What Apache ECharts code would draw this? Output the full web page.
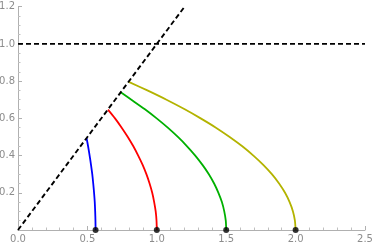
<!DOCTYPE html>
<html><head><meta charset="utf-8">
<script src="https://cdn.jsdelivr.net/npm/echarts@6/dist/echarts.min.js"></script>
<style>html,body{margin:0;padding:0;background:#fff}#c{width:374px;height:248px}</style>
</head><body><div id="c"></div>
<script>
// curve data: [x, y]
const blueCurve = [[0.559,0],[0.558,0.05],[0.556,0.1],[0.553,0.15],[0.548,0.2],[0.542,0.25],[0.535,0.3],[0.526,0.35],[0.516,0.4],[0.505,0.45],[0.494,0.494]];
const redCurve = [[1,0],[0.998,0.05],[0.992,0.1],[0.981,0.15],[0.967,0.2],[0.948,0.25],[0.925,0.3],[0.898,0.35],[0.866,0.4],[0.831,0.45],[0.791,0.5],[0.747,0.55],[0.699,0.6],[0.648,0.647]];
const greenCurve = [[1.5,0],[1.497,0.05],[1.486,0.1],[1.469,0.15],[1.444,0.2],[1.413,0.25],[1.375,0.3],[1.329,0.35],[1.277,0.4],[1.218,0.45],[1.152,0.5],[1.079,0.55],[0.999,0.6],[0.912,0.65],[0.817,0.7],[0.74,0.74]];
const yellowCurve = [[2,0],[1.995,0.05],[1.981,0.1],[1.957,0.15],[1.924,0.2],[1.881,0.25],[1.829,0.3],[1.767,0.35],[1.696,0.4],[1.616,0.45],[1.525,0.5],[1.426,0.55],[1.316,0.6],[1.198,0.65],[1.07,0.7],[0.932,0.75],[0.798,0.796]];
const startPoints = [[0.559,0],[1,0],[1.5,0],[2,0]];
const diagonalLine = [[0,0],[1.2,1.2]];
const horizontalLine = [[0,1],[2.5,1]];
const xTicks = [0, 0.5, 1.0, 1.5, 2.0, 2.5];
const yTicks = [0, 0.2, 0.4, 0.6, 0.8, 1.0, 1.2];

const chart = echarts.init(document.getElementById('c'), null, {renderer:'canvas'});
const axisCommon = {
  axisLine:{show:true,onZero:false,lineStyle:{color:'#b0b0b0',width:1}},
  axisTick:{show:true,inside:true,length:4,lineStyle:{color:'#b0b0b0'}},
  minorTick:{show:true,length:2.5,lineStyle:{color:'#c0c0c0'}},
  splitLine:{show:false},
  axisLabel:{color:'#8c8c8c',fontSize:10,fontFamily:'DejaVu Sans'}
};
function line(data,color,dash){
  return {type:'line',data:data,showSymbol:false,smooth:dash?false:0.25,
    lineStyle:{color:color,width:dash?1.9:1.8,type:dash?[5,3]:'solid'},
    z:dash?3:2,silent:true,animation:false};
}
chart.setOption({
  animation:false,
  grid:{left:18,right:9,top:6.7,bottom:18,containLabel:false,outerBoundsMode:'none'},
  xAxis:Object.assign({},axisCommon,{type:'value',min:xTicks[0],max:xTicks[xTicks.length-1],interval:0.5,
    minorTick:Object.assign({},axisCommon.minorTick,{splitNumber:5}),
    axisLabel:Object.assign({},axisCommon.axisLabel,{margin:4,formatter:v=>v.toFixed(1)})}),
  yAxis:Object.assign({},axisCommon,{type:'value',min:yTicks[0],max:yTicks[yTicks.length-1],interval:0.2,
    minorTick:Object.assign({},axisCommon.minorTick,{splitNumber:4}),
    axisLabel:Object.assign({},axisCommon.axisLabel,{margin:3,formatter:v=>v===0?'':v.toFixed(1)})}),
  series:[
    line(blueCurve,'#0000ff'),
    line(redCurve,'#ff0000'),
    line(greenCurve,'#00b000'),
    line(yellowCurve,'#b3b300'),
    line(diagonalLine,'#000',true),
    line(horizontalLine,'#000',true),
    {type:'scatter',data:startPoints,symbolSize:6,itemStyle:{color:'#000'},z:5,silent:true}
  ]
});
</script></body></html>
